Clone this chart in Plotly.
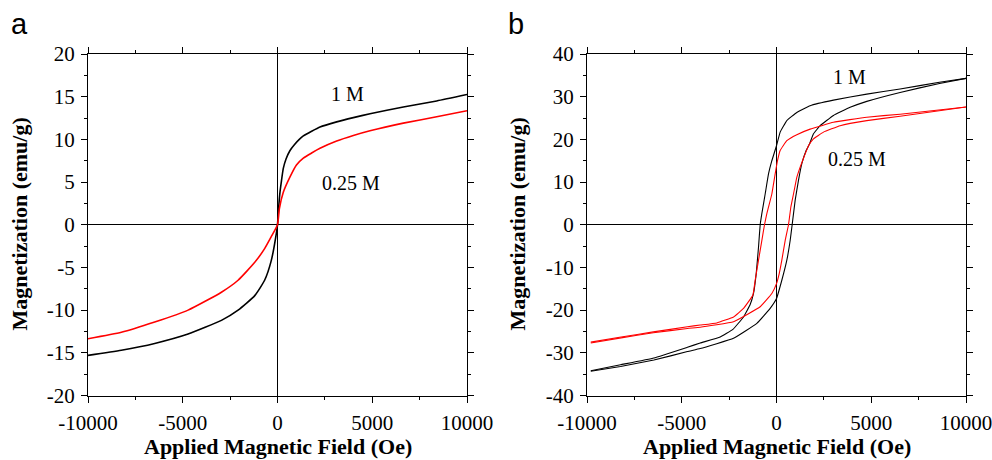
import plotly.graph_objects as go

# ---- panel a: anhysteretic magnetization curves ----
a_1m_field = [-10000, -8240, -6480, -4720, -2960, -2080, -1200, -680, -330, -60, 0,
              60, 130, 200, 306, 450, 660, 900, 1150, 1363, 1800, 2243, 3122, 4002, 4881,
              6640, 8400, 10000]
a_1m_mag = [-15.3, -14.7, -13.9, -12.8, -11.2, -10.0, -8.3, -6.5, -4.2, -1.0, 0,
            2.0, 3.8, 5.0, 6.6, 7.7, 8.7, 9.4, 10.0, 10.4, 10.95, 11.45, 12.05, 12.55, 13.0,
            13.8, 14.5, 15.25]

a_025m_field = [-10000, -8240, -6480, -4720, -2960, -2080, -1200, -680, -330, 0,
                100, 306, 660, 1000, 1363, 1800, 2243, 3122, 4002, 4881, 6640, 8400, 10000]
a_025m_mag = [-13.35, -12.6, -11.4, -10.0, -7.9, -6.5, -4.4, -2.8, -1.4, 0,
              1.9, 3.8, 5.6, 7.0, 7.8, 8.4, 8.95, 9.8, 10.45, 11.0, 11.9, 12.65, 13.35]

# ---- panel b: hysteresis loops (descending then ascending branch) ----
b_1m_down_field = [10000, 8600, 6522, 4764, 3006, 1776, 1072, 545, 193, 0, -246, -422, -598,
                   -774, -861, -949, -1072, -1213, -1389, -1740, -2300, -2971, -4026, -4700,
                   -6470, -8230, -9800]
b_1m_down_mag = [34.3, 33.4, 31.8, 30.6, 29.2, 27.9, 26.3, 24.4, 21.7, 18.5, 15.0, 11.9, 7.2,
                 2.6, 0, -5.2, -11.5, -16.1, -18.7, -21.6, -24.5, -26.3, -27.7, -28.7,
                 -31.2, -32.8, -34.2]
b_1m_up_field = [-9800, -8230, -6470, -4700, -4026, -2268, -1037, -334, 0, 281, 545, 721,
                 826, 984, 1160, 1336, 1565, 1740, 1951, 2303, 3006, 3885, 4764, 6522, 8600, 10000]
b_1m_up_mag = [-34.3, -33.2, -31.7, -29.7, -29.0, -26.6, -23.1, -19.6, -17.3, -13.0, -8.3,
               -3.7, 0, 5.7, 10.4, 14.3, 17.4, 18.9, 21.3, 23.2, 25.6, 27.5, 28.9, 31.0, 33.1, 34.3]

b_025m_down_field = [10000, 6522, 4764, 3006, 1776, 1072, 545, 193, 53, -70, -246, -510, -633,
                     -774, -949, -1125, -1248, -1740, -2268, -3147, -4026, -4700, -6500, -8200, -9800]
b_025m_down_mag = [27.6, 25.9, 25.2, 24.0, 22.4, 21.1, 19.7, 17.4, 15.0, 11.9, 7.2, 2.6, 0,
                   -3.7, -8.3, -13.0, -16.5, -19.6, -21.6, -23.0, -23.5, -23.9, -25.1, -26.3, -27.5]
b_025m_up_field = [-9800, -8200, -6500, -4700, -4026, -2268, -861, -246, 0, 141, 281, 457,
                   633, 756, 897, 1072, 1248, 1512, 1688, 1951, 2479, 3358, 4764, 6522, 10000]
b_025m_up_mag = [-27.7, -26.5, -25.3, -24.3, -24.0, -22.7, -19.2, -16.1, -13.8, -11.5, -8.3,
                 -3.7, 0, 4.1, 7.2, 11.1, 13.5, 16.6, 18.5, 20.1, 21.7, 23.2, 24.4, 25.4, 27.6]

# ---- axis ticks ----
x_tickvals = [-10000, -5000, 0, 5000, 10000]
x_ticktext = ["-10000", "-5000", "0", "5000", "10000"]
ya_tickvals = [-20, -15, -10, -5, 0, 5, 10, 15, 20]
ya_ticktext = ["-20", "-15", "-10", "-5", "0", "5", "10", "15", "20"]
yb_tickvals = [-40, -30, -20, -10, 0, 10, 20, 30, 40]
yb_ticktext = ["-40", "-30", "-20", "-10", "0", "10", "20", "30", "40"]

SERIF = "Liberation Serif, Times New Roman, serif"
RED = "#ff0000"
BLACK = "#000000"

fig = go.Figure()

# panel a
fig.add_trace(go.Scatter(x=a_1m_field, y=a_1m_mag, mode="lines",
                         line=dict(color=BLACK, width=1.6, shape="spline", smoothing=0.5),
                         xaxis="x", yaxis="y", showlegend=False))
fig.add_trace(go.Scatter(x=a_025m_field, y=a_025m_mag, mode="lines",
                         line=dict(color=RED, width=1.6, shape="spline", smoothing=0.5),
                         xaxis="x", yaxis="y", showlegend=False))

# panel b
for fx, my, col in [(b_1m_down_field, b_1m_down_mag, BLACK), (b_1m_up_field, b_1m_up_mag, BLACK),
                    (b_025m_down_field, b_025m_down_mag, RED), (b_025m_up_field, b_025m_up_mag, RED)]:
    fig.add_trace(go.Scatter(x=fx, y=my, mode="lines",
                             line=dict(color=col, width=1.1, shape="spline", smoothing=0.3),
                             xaxis="x2", yaxis="y2", showlegend=False))

tickfont = dict(family=SERIF, size=21, color="black")
common_x = dict(range=[-10000, 10000], tickvals=x_tickvals, ticktext=x_ticktext,
                ticks="outside", ticklen=6, tickwidth=1.2, tickcolor="black",
                minor=dict(dtick=2500, tick0=0, ticks="outside", ticklen=3, tickwidth=1.2, tickcolor="black"),
                showline=True, linecolor="black", linewidth=1.3, mirror="ticks",
                showgrid=False, zeroline=True, zerolinecolor="black", zerolinewidth=1.2,
                tickfont=tickfont, ticklabelstandoff=2, ticklabeloverflow="allow",
                automargin=False, fixedrange=True)
common_y = dict(ticks="outside", ticklen=6, tickwidth=1.2, tickcolor="black",
                showline=True, linecolor="black", linewidth=1.3, mirror="ticks",
                showgrid=False, zeroline=True, zerolinecolor="black", zerolinewidth=1.2,
                tickfont=tickfont, ticklabelstandoff=2, ticklabeloverflow="allow",
                automargin=False, fixedrange=True)

ydom = [1 - 395.5 / 460, 1 - 54 / 460]
fig.update_layout(
    width=992, height=460,
    margin=dict(l=0, r=0, t=0, b=0, autoexpand=False),
    paper_bgcolor="white", plot_bgcolor="white",
    xaxis=dict(domain=[88 / 992, 467 / 992], anchor="y", **common_x),
    yaxis=dict(domain=ydom, anchor="x", range=[-20, 20], tickvals=ya_tickvals, ticktext=ya_ticktext,
               minor=dict(dtick=2.5, tick0=0, ticks="outside", ticklen=3, tickwidth=1.2, tickcolor="black"),
               **common_y),
    xaxis2=dict(domain=[587 / 992, 966 / 992], anchor="y2", **common_x),
    yaxis2=dict(domain=ydom, anchor="x2", range=[-40, 40], tickvals=yb_tickvals, ticktext=yb_ticktext,
                minor=dict(dtick=5, tick0=0, ticks="outside", ticklen=3, tickwidth=1.2, tickcolor="black"),
                **common_y),
)

title_font = dict(family=SERIF, size=22, color="black")
label_font = dict(family=SERIF, size=20, color="black")
panel_font = dict(family="Liberation Sans, Arial, sans-serif", size=29, color="black")

annotations = [
    # panel letters
    dict(text="a", x=9 / 992, y=1 - 24 / 460, xref="paper", yref="paper", xanchor="left", yanchor="middle",
         showarrow=False, font=panel_font),
    dict(text="b", x=506 / 992, y=1 - 24 / 460, xref="paper", yref="paper", xanchor="left", yanchor="middle",
         showarrow=False, font=panel_font),
    # axis titles
    dict(text="<b>Applied Magnetic Field (Oe)</b>", x=277.5 / 992, y=1 - 446 / 460, xref="paper", yref="paper",
         xanchor="center", yanchor="middle", showarrow=False, font=title_font),
    dict(text="<b>Applied Magnetic Field (Oe)</b>", x=776.5 / 992, y=1 - 446 / 460, xref="paper", yref="paper",
         xanchor="center", yanchor="middle", showarrow=False, font=title_font),
    dict(text="<b>Magnetization (emu/g)</b>", x=19 / 992, y=1 - 224.5 / 460, xref="paper", yref="paper",
         xanchor="center", yanchor="middle", textangle=-90, showarrow=False, font=title_font),
    dict(text="<b>Magnetization (emu/g)</b>", x=517 / 992, y=1 - 224.5 / 460, xref="paper", yref="paper",
         xanchor="center", yanchor="middle", textangle=-90, showarrow=False, font=title_font),
    # curve labels
    dict(text="1 M", x=3670, y=15.3, xref="x", yref="y", showarrow=False, font=label_font),
    dict(text="0.25 M", x=3880, y=4.9, xref="x", yref="y", showarrow=False, font=label_font),
    dict(text="1 M", x=3830, y=34.5, xref="x2", yref="y2", showarrow=False, font=label_font),
    dict(text="0.25 M", x=4250, y=15.5, xref="x2", yref="y2", showarrow=False, font=label_font),
]
fig.update_layout(annotations=annotations)

fig.write_html("out.html")
